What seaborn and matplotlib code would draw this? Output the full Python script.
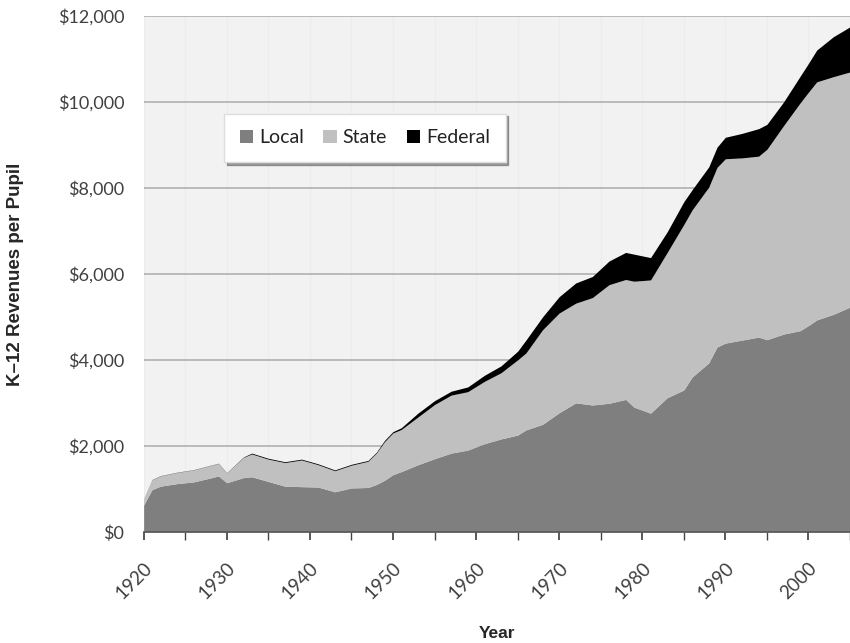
import numpy as np
import pandas as pd
import seaborn as sns
import matplotlib.pyplot as plt
from matplotlib.ticker import FuncFormatter, MultipleLocator

# values (dollars per pupil)
years = [1920, 1921, 1922, 1924, 1926, 1928, 1929, 1930, 1932, 1933, 1935, 1937,
         1939, 1941, 1943, 1945, 1947, 1948, 1949, 1950, 1951, 1953, 1955, 1957,
         1959, 1961, 1963, 1965, 1966, 1968, 1970, 1972, 1974, 1976, 1978, 1979,
         1981, 1983, 1985, 1986, 1988, 1989, 1990, 1992, 1994, 1995, 1997, 1999,
         2000, 2001, 2003, 2005]
local = [620, 980, 1060, 1120, 1160, 1250, 1300, 1140, 1260, 1280, 1170, 1060,
         1050, 1040, 930, 1020, 1030, 1100, 1200, 1330, 1400, 1560, 1700, 1830,
         1900, 2050, 2160, 2250, 2370, 2500, 2770, 3000, 2950, 2990, 3080, 2900,
         2760, 3120, 3300, 3600, 3930, 4300, 4390, 4460, 4530, 4470, 4600, 4680,
         4800, 4930, 5060, 5230]
state = [160, 230, 240, 260, 280, 290, 290, 230, 470, 530, 520, 550,
         620, 520, 490, 530, 610, 730, 900, 970, 980, 1110, 1260, 1350,
         1360, 1450, 1540, 1750, 1790, 2200, 2320, 2320, 2500, 2760, 2790, 2930,
         3100, 3380, 3850, 3890, 4090, 4180, 4290, 4240, 4210, 4430, 4850, 5300,
         5430, 5540, 5530, 5470]
federal = [0, 5, 5, 5, 5, 5, 5, 5, 10, 20, 20, 20,
           20, 20, 20, 20, 20, 20, 30, 30, 40, 90, 90, 90,
           110, 140, 160, 200, 300, 300, 380, 470, 490, 550, 630, 630,
           520, 480, 530, 470, 470, 470, 500, 570, 640, 580, 550, 620,
           670, 740, 930, 1050]

df = pd.DataFrame({'Year': years, 'Local': local, 'State': state, 'Federal': federal})

sns.set_theme(style='white')
plt.rcParams['font.family'] = ['Lato', 'DejaVu Sans']

fig = plt.figure(figsize=(8.5, 6.43), dpi=100)
ax = fig.add_axes([0.169, 0.173, 0.831, 0.802])
ax.set_facecolor('#f2f2f2')

ax.stackplot(df.Year, df.Local, df.State, df.Federal,
             colors=['#7f7f7f', '#c0c0c0', '#000000'],
             labels=['Local', 'State', 'Federal'], linewidth=0, zorder=3)

ax.set_xlim(1920, 2005)
ax.set_ylim(0, 12000)
ax.yaxis.set_major_locator(MultipleLocator(2000))
ax.yaxis.set_major_formatter(FuncFormatter(lambda v, p: '${:,.0f}'.format(v)))
ax.set_xticks(range(1920, 2001, 10))
ax.set_xticks(range(1920, 2006, 5), minor=True)
ax.grid(axis='y', color='#b0b0b0', linewidth=1.2, zorder=1)
for yr in range(1920, 2006, 5):
    ax.axvline(yr, color='#ececec', linewidth=0.8, zorder=0.5)

for s in ['top', 'right', 'left']:
    ax.spines[s].set_visible(False)
ax.spines['bottom'].set_color('#555555')
ax.spines['bottom'].set_linewidth(1.2)
ax.spines['bottom'].set_zorder(4)

ax.tick_params(axis='x', which='both', bottom=True, length=6, color='#444444',
               direction='out')
ax.tick_params(axis='x', labelsize=13.5, labelcolor='#404040', pad=14)
ax.tick_params(axis='y', length=0, labelsize=13, labelcolor='#404040', pad=14)
for lab in ax.get_xticklabels():
    lab.set_rotation(45)
    lab.set_ha('right')
    lab.set_rotation_mode('anchor')

ax.set_xlabel('Year', fontsize=12.5, fontweight='bold', family='Liberation Sans',
              labelpad=17)
ax.set_ylabel('K\u201312 Revenues per Pupil', fontsize=13.5, fontweight='bold',
              family='Liberation Sans', labelpad=24)

leg = ax.legend(loc='center', bbox_to_anchor=(0.313, 0.764), ncol=3,
                fontsize=14, frameon=True, fancybox=False, shadow=True,
                handlelength=0.7, handleheight=0.7, handletextpad=0.3,
                columnspacing=1.0, borderpad=0.8)
leg.get_frame().set_facecolor('white')
leg.get_frame().set_edgecolor('#dddddd')
leg.get_frame().set_alpha(1)
for t in leg.get_texts():
    t.set_color('#222222')

fig.savefig('out.png', dpi=100)
